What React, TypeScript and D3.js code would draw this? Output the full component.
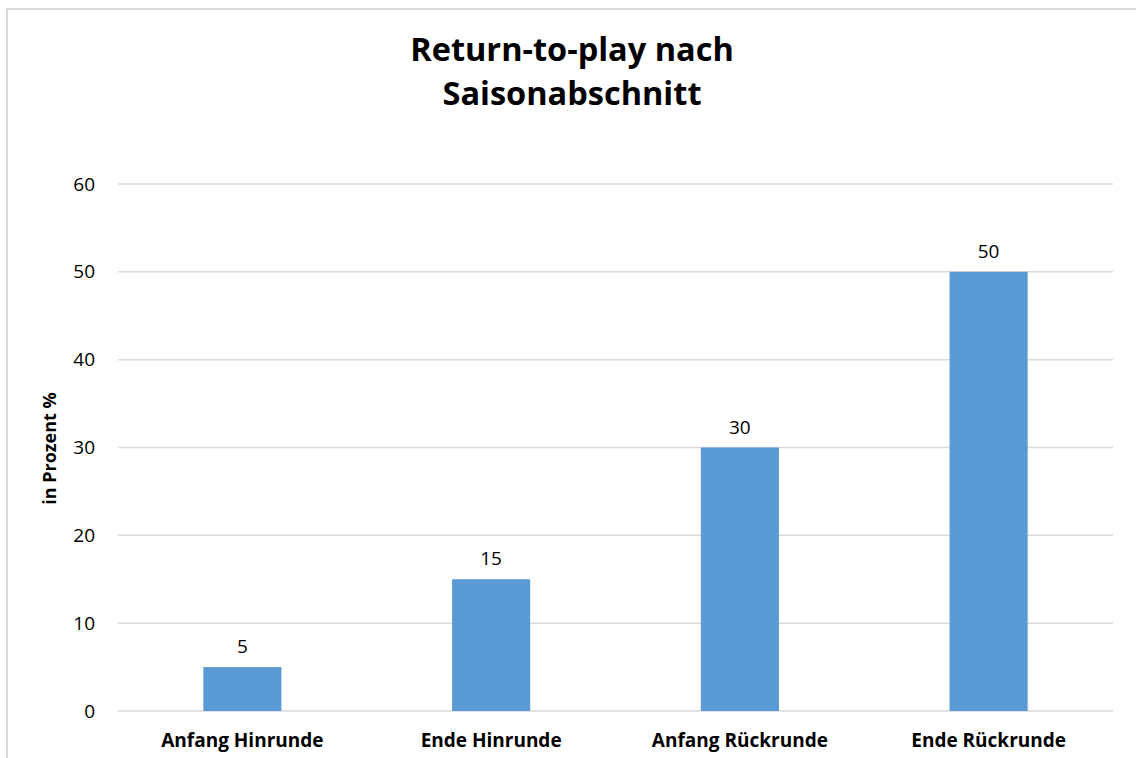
import React from "react";
import * as d3 from "d3";

const categories = ["Anfang Hinrunde", "Ende Hinrunde", "Anfang Rückrunde", "Ende Rückrunde"];
const values = [5, 15, 30, 50];
const yTicks = [0, 10, 20, 30, 40, 50, 60];
const titleLines = ["Return-to-play nach", "Saisonabschnitt"];
const yLabel = "in Prozent %";

const W = 1136;
const H = 758;
const left = 118;
const right = 1113;
const top = 184;
const bottom = 711;
const font = "'Open Sans', sans-serif";

export default function App() {
  const x = d3.scaleBand<string>().domain(categories).range([left, right]).paddingInner(0.686).paddingOuter(0.343);
  const y = d3.scaleLinear().domain([0, 60]).range([bottom, top]);
  return (
    <svg width={W} height={H} style={{ position: "absolute", left: 0, top: 0, background: "#fff" }}>
      <rect x={7} y={9} width={W + 10} height={H + 10} fill="#fff" stroke="#d9d9d9" strokeWidth={2} />
      {titleLines.map((t, i) => (
        <text key={t} x={572} y={61 + i * 44} textAnchor="middle" fontFamily={font} fontWeight="bold" fontSize={32.5} fill="#000">
          {t}
        </text>
      ))}
      {yTicks.map((t) => (
        <g key={t}>
          <line x1={left} x2={right} y1={y(t)} y2={y(t)} stroke="#d9d9d9" strokeWidth={1.5} />
          <text x={95} y={y(t)} dy="0.35em" textAnchor="end" fontFamily={font} fontSize={19} fill="#000">
            {t}
          </text>
        </g>
      ))}
      {categories.map((c, i) => {
        const bx = x(c)!;
        const bw = x.bandwidth();
        return (
          <g key={c}>
            <rect x={bx} y={y(values[i])} width={bw} height={y(0) - y(values[i])} fill="#5b9bd5" />
            <text x={bx + bw / 2} y={y(values[i]) - 14} textAnchor="middle" fontFamily={font} fontSize={19} fill="#000">
              {values[i]}
            </text>
            <text x={bx + bw / 2} y={747} textAnchor="middle" fontFamily={font} fontWeight="bold" fontSize={19} fill="#000">
              {c}
            </text>
          </g>
        );
      })}
      <text transform={`translate(56, ${(top + bottom) / 2 + 1}) rotate(-90)`} textAnchor="middle" fontFamily={font} fontWeight="bold" fontSize={18} fill="#000">
        {yLabel}
      </text>
    </svg>
  );
}
